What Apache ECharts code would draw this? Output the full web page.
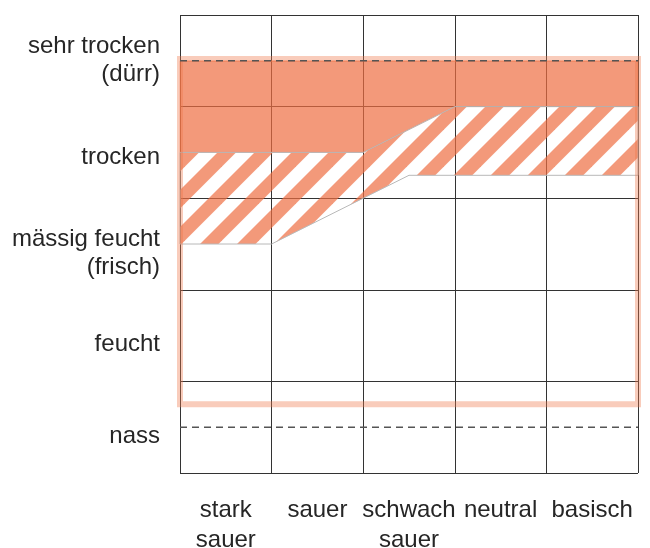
<!DOCTYPE html>
<html>
<head>
<meta charset="utf-8">
<script src="https://cdn.jsdelivr.net/npm/echarts@6/dist/echarts.min.js"></script>
<style>
  html, body { margin: 0; padding: 0; background: #fff; }
  #chart { width: 650px; height: 548px; }
</style>
</head>
<body>
<div id="chart"></div>
<script>
// Feuchtestufen (y) und Reaktionsklassen (x)
const moistureLabels = ['nass', 'feucht', 'mässig feucht\n(frisch)', 'trocken', 'sehr trocken\n(dürr)']
const moistureLabelPos = [0.4, 1.4, 2.4, 3.45, 4.5]
const phLabels = ['stark\nsauer', 'sauer', 'schwach\nsauer', 'neutral', 'basisch']
const phLabelPos = [0.5, 1.5, 2.5, 3.5, 4.5]

// Hauptvorkommen (voll gefüllt)
const coreX = [0, 5, 5, 3, 2, 0]
const coreY = [4.5, 4.5, 4, 4, 3.5, 3.5]
// Nebenvorkommen (schraffiert)
const sideX = [0, 2, 3, 5, 5, 2.5, 1, 0]
const sideY = [3.5, 3.5, 4, 4, 3.25, 3.25, 2.5, 2.5]
// ökologische Amplitude (Rahmen): x0, y0, x1, y1
const rangeBox = [0, 0.75, 5, 4.52]
// gestrichelte Grenzen
const dashedLevels = [4.5, 0.5]

const fillColor = 'rgba(238,110,65,0.7)'

// Schraffur als Muster
function makeHatch () {
  const T = 37
  const c = document.createElement('canvas')
  c.width = T
  c.height = T
  const ctx = c.getContext('2d')
  ctx.fillStyle = fillColor
  for (let k = 0; k <= 2; k++) {
    ctx.beginPath()
    ctx.moveTo(k * T, 0)
    ctx.lineTo(k * T + T / 2, 0)
    ctx.lineTo(k * T + T / 2 - T, T)
    ctx.lineTo(k * T - T, T)
    ctx.closePath()
    ctx.fill()
  }
  return c
}
const hatch = makeHatch()

function polygonSeries (xs, ys, style, z) {
  return {
    type: 'custom',
    coordinateSystem: 'cartesian2d',
    silent: true,
    z: z,
    data: [[0, 0]],
    renderItem: (params, api) => ({
      type: 'polygon',
      shape: { points: xs.map((x, i) => api.coord([x, ys[i]])) },
      style: style
    })
  }
}

const chart = echarts.init(document.getElementById('chart'))

const textStyle = { color: '#262626', fontSize: 24, fontFamily: 'Liberation Sans, Arial, sans-serif', lineHeight: 28 }

const option = {
  animation: false,
  grid: { left: 180, right: 12, top: 15, bottom: 75, outerBoundsMode: 'none', containLabel: false },
  xAxis: {
    type: 'value',
    min: 0,
    max: 5,
    interval: 1,
    axisLine: { show: false },
    axisTick: { show: false },
    splitLine: { show: true, lineStyle: { color: '#333', width: 1 } },
    axisLabel: Object.assign({}, textStyle, {
      customValues: phLabelPos,
      margin: 22,
      lineHeight: 30,
      formatter: v => phLabels[phLabelPos.indexOf(v)] || ''
    })
  },
  yAxis: {
    type: 'value',
    min: 0,
    max: 5,
    interval: 1,
    axisLine: { show: false },
    axisTick: { show: false },
    splitLine: { show: true, lineStyle: { color: '#333', width: 1 } },
    axisLabel: Object.assign({}, textStyle, {
      customValues: moistureLabelPos,
      margin: 20,
      align: 'right',
      formatter: v => moistureLabels[moistureLabelPos.indexOf(v)] || ''
    })
  },
  series: [
    polygonSeries(coreX, coreY, { fill: fillColor, stroke: 'rgba(238,110,65,0.4)', lineWidth: 1 }, 2),
    polygonSeries(sideX, sideY, { fill: { image: hatch, repeat: 'repeat' }, stroke: '#b8b8b8', lineWidth: 1 }, 2),
    {
      type: 'custom',
      coordinateSystem: 'cartesian2d',
      silent: true,
      z: 3,
      data: [rangeBox],
      renderItem: (params, api) => {
        const p0 = api.coord([api.value(0), api.value(3)])
        const p1 = api.coord([api.value(2), api.value(1)])
        return {
          type: 'rect',
          shape: { x: p0[0], y: p0[1], width: p1[0] - p0[0], height: p1[1] - p0[1] },
          style: { fill: 'none', stroke: 'rgba(238,120,75,0.38)', lineWidth: 6 }
        }
      }
    }
  ].concat(dashedLevels.map(lv => ({
    type: 'line',
    silent: true,
    z: 4,
    symbol: 'none',
    data: [[0, lv], [5, lv]],
    lineStyle: { color: '#555', width: 1.5, type: [7, 5] }
  })))
}

chart.setOption(option)
</script>
</body>
</html>
